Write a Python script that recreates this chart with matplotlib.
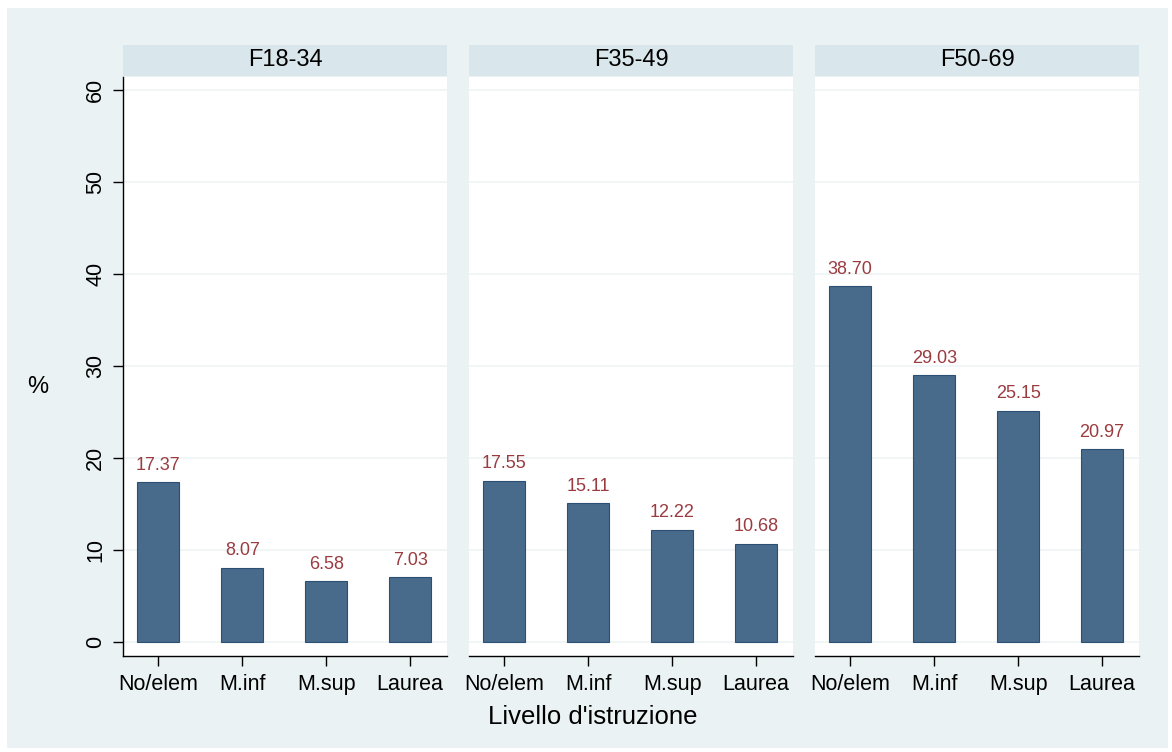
import numpy as np
import matplotlib.pyplot as plt
from matplotlib.patches import Rectangle

plt.rcParams['font.family'] = ['Liberation Sans', 'DejaVu Sans']

# Dati
gruppi = ['F18-34', 'F35-49', 'F50-69']
livelli = ['No/elem', 'M.inf', 'M.sup', 'Laurea']
valori = [
    [17.37, 8.07, 6.58, 7.03],
    [17.55, 15.11, 12.22, 10.68],
    [38.70, 29.03, 25.15, 20.97],
]
yticks = [0, 10, 20, 30, 40, 50, 60]

W, H = 1172, 752
fig = plt.figure(figsize=(W / 100, H / 100), dpi=100, facecolor='white')
# sfondo grafico
fig.patches.append(Rectangle((7 / W, 4 / H), 1161 / W, 740 / H, transform=fig.transFigure,
                             facecolor='#EAF2F3', edgecolor='none', zorder=-10))

bar_col = '#486A8B'
edge_col = '#2B5074'
lab_col = '#9A3B40'
x = np.arange(1, 5)

lefts = [123, 469, 815]
pw = 324
for i, (g, v) in enumerate(zip(gruppi, valori)):
    ax = fig.add_axes([lefts[i] / W, (H - 656) / H, pw / W, (656 - 77) / H])
    ax.set_facecolor('white')
    ax.bar(x, v, width=0.5, color=bar_col, edgecolor=edge_col, linewidth=0.8, zorder=3)
    for xi, vi in zip(x, v):
        ax.text(xi, vi + 0.9, f'{vi:.2f}', ha='center', va='bottom', color=lab_col, fontsize=13)
    ax.set_xlim(0.58, 4.44)
    ax.set_ylim(-1.52, 61.4)
    ax.set_yticks(yticks)
    ax.grid(axis='y', color='#EEF4F5', linewidth=1.2, zorder=0)
    ax.set_xticks(x)
    ax.set_xticklabels(livelli, fontsize=15.5)
    ax.tick_params(axis='x', length=7, width=1, pad=6)
    for s in ['top', 'right']:
        ax.spines[s].set_visible(False)
    ax.spines['bottom'].set_linewidth(1)
    if i == 0:
        ax.spines['left'].set_linewidth(1)
        ax.set_yticklabels([str(t) for t in yticks], fontsize=15.5, rotation=90, va='center')
        ax.tick_params(axis='y', length=7, width=1, pad=5)
    else:
        ax.spines['left'].set_visible(False)
        ax.tick_params(axis='y', left=False, labelleft=False)
    # intestazione pannello
    hx = fig.add_axes([lefts[i] / W, (H - 76) / H, pw / W, 31 / H])
    hx.set_facecolor('#D9E6EB')
    hx.set_xticks([])
    hx.set_yticks([])
    for s in hx.spines.values():
        s.set_visible(False)
    hx.text(0.5, 0.5, g, ha='center', va='center', fontsize=17, transform=hx.transAxes)

fig.text(38 / W, 1 - 387 / H, '%', ha='center', va='center', fontsize=17)
fig.text(593 / W, 1 - 717 / H, "Livello d'istruzione", ha='center', va='center', fontsize=18.5)

fig.savefig('out.png', dpi=100, facecolor='white')
